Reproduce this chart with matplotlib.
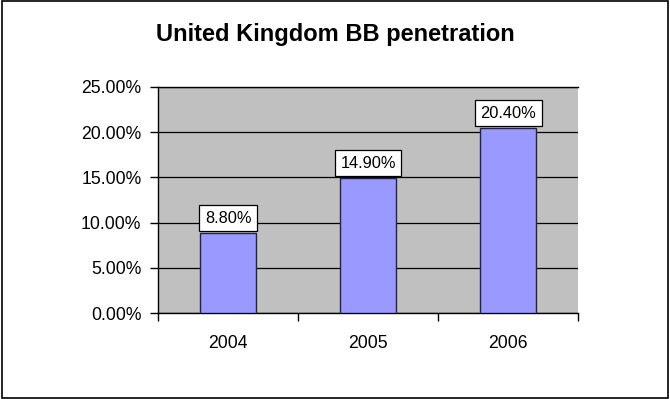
import numpy as np
import matplotlib.pyplot as plt
from matplotlib.patches import Rectangle

plt.rcParams['font.family'] = ['Liberation Sans', 'DejaVu Sans']

years = ['2004', '2005', '2006']
penetration = [8.80, 14.90, 20.40]  # %
yticks = [0, 5, 10, 15, 20, 25]

fig = plt.figure(figsize=(6.70, 3.99), dpi=100)
fig.patch.set_facecolor('white')
# rahmen um das ganze diagramm
fig.add_artist(Rectangle((0.003, 0.003), 0.994, 0.994, transform=fig.transFigure,
                         fill=False, edgecolor='black', linewidth=1.2))

ax = fig.add_axes([0.236, 0.2155, 0.627, 0.567])
ax.set_facecolor('#C0C0C0')

x = np.arange(len(years))
bars = ax.bar(x, penetration, width=0.4, color='#9999FF', edgecolor='#222244',
              linewidth=1, zorder=3)

ax.set_xlim(-0.5, len(years) - 0.5)
ax.set_ylim(0, 25)
ax.set_yticks(yticks)
ax.set_yticklabels(['%.2f%%' % v for v in yticks], fontsize=12.7)
ax.yaxis.grid(True, color='black', linewidth=0.9, zorder=1)
ax.set_axisbelow(True)

# x ticks zwischen den kategorien
ax.set_xticks(np.arange(-0.5, len(years)), minor=False)
ax.set_xticklabels([])
ax.set_xticks(x, minor=True)
ax.set_xticklabels(years, minor=True, fontsize=12.7)
ax.tick_params(axis='x', which='major', length=6, width=1, direction='out')
ax.tick_params(axis='x', which='minor', length=0, pad=16)
ax.tick_params(axis='y', length=6, width=1, direction='out', pad=6)

for s in ['left', 'bottom', 'top']:
    ax.spines[s].set_color('black')
    ax.spines[s].set_linewidth(1)
ax.spines['right'].set_visible(False)

# datenbeschriftungen, box sitzt direkt auf dem balken
for xi, v in zip(x, penetration):
    ax.annotate('%.2f%%' % v, (xi, v), xytext=(0, 5.4), textcoords='offset points',
                ha='center', va='bottom', fontsize=11.8, zorder=5,
                bbox=dict(boxstyle='square,pad=0.34', facecolor='white',
                          edgecolor='black', linewidth=0.9))

fig.text(0.5, 0.897, 'United Kingdom BB penetration', ha='center', va='baseline',
         fontsize=17, fontweight='bold')

plt.savefig('out.png', dpi=100)
